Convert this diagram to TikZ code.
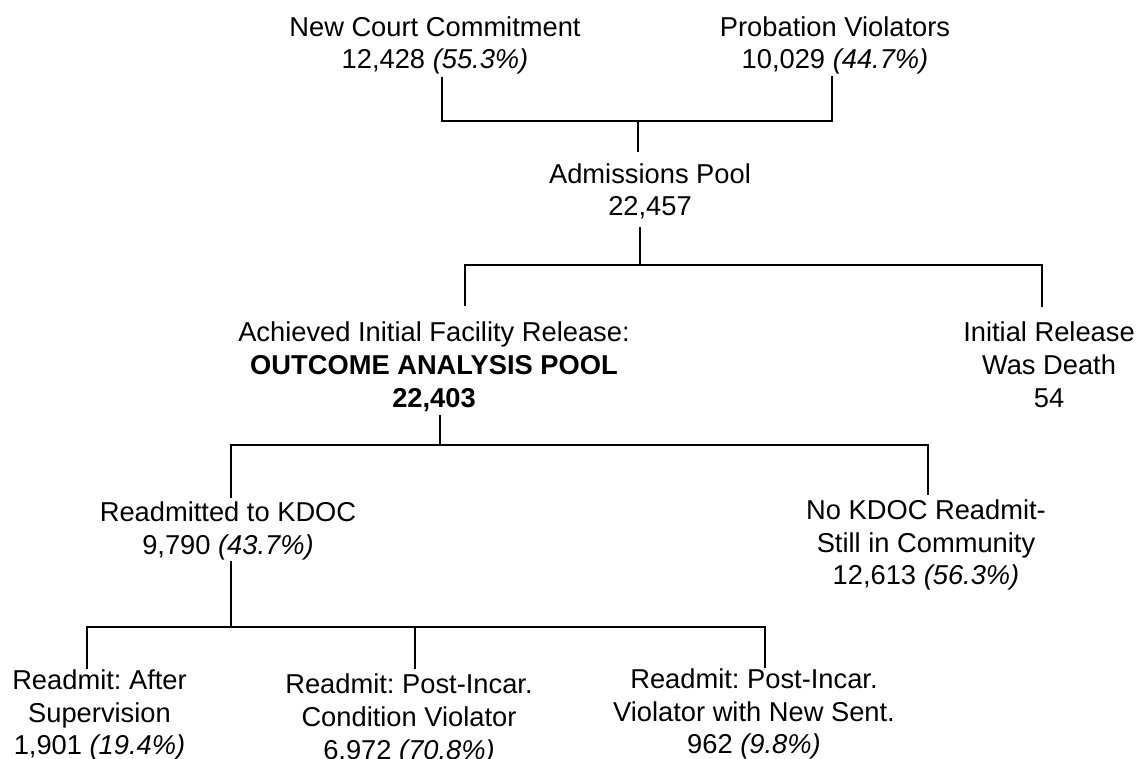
\documentclass[tikz,border=0pt]{standalone}
\usepackage{fontspec}
\setmainfont{Liberation Sans}
\newcommand\fstr{\rule{0pt}{11.375pt}}
\frenchspacing
\begin{document}
\begin{tikzpicture}[x=0.5pt,y=-0.5pt,
  lbl/.style={anchor=north,align=center,inner sep=0pt,font=\fontsize{13.65pt}{16.3pt}\selectfont\frenchspacing},
  wide/.style={font=\fontsize{13.65pt}{16.6pt}\selectfont\frenchspacing},
  conn/.style={draw=black,line width=0.65pt}]
\useasboundingbox (0,0) rectangle (1139,759);
% nodes
\node[lbl] (nc) at (435,13.25) {\fstr New Court Commitment\\12,428 \textit{(55.3\%)}};
\node[lbl] (pv) at (835,13.25) {\fstr Probation Violators\\10,029 \textit{(44.7\%)}};
\node[lbl] (ap) at (650,160.25) {\fstr Admissions Pool\\22,457};
\node[lbl,wide] (oa) at (434,318.25) {\fstr Achieved Initial Facility Release:\\\textbf{OUTCOME ANALYSIS POOL}\\\textbf{22,403}};
\node[lbl,wide] (de) at (1049,318.25) {\fstr Initial Release\\Was Death\\54};
\node[lbl,wide] (rk) at (228,498.25) {\fstr Readmitted to KDOC\\9,790 \textit{(43.7\%)}};
\node[lbl] (nk) at (926,496.25) {\fstr No KDOC Readmit-\\Still in Community\\12,613 \textit{(56.3\%)}};
\node[lbl] (as) at (99.5,666.25) {\fstr Readmit: After\\Supervision\\1,901 \textit{(19.4\%)}};
\node[lbl,wide] (cv) at (409,670.25) {\fstr Readmit: Post-Incar.\\Condition Violator\\6,972 \textit{(70.8\%)}};
\node[lbl] (vn) at (754,665.25) {\fstr Readmit: Post-Incar.\\Violator with New Sent.\\962 \textit{(9.8\%)}};
% connector points
\coordinate (ncB) at (442,77);
\coordinate (pvB) at (832,76);
\coordinate (j1) at (638,121);
\coordinate (apT) at (638,152);
\coordinate (apB) at (640,227);
\coordinate (j2) at (640,265);
\coordinate (oaT) at (465,306);
\coordinate (deT) at (1042,307);
\coordinate (oaB) at (440,415);
\coordinate (j3) at (440,445);
\coordinate (rkT) at (231,498);
\coordinate (nkT) at (928,495);
\coordinate (rkB) at (231,561);
\coordinate (j4) at (231,627);
\coordinate (asT) at (87,669);
\coordinate (cvT) at (415,669);
\coordinate (vnT) at (765,668);
% connectors
\draw[conn] (ncB) -- (ncB |- j1) -- (pvB |- j1) -- (pvB);
\draw[conn] (j1) -- (apT);
\draw[conn] (apB) -- (j2);
\draw[conn] (oaT) -- (oaT |- j2) -- (deT |- j2) -- (deT);
\draw[conn] (oaB) -- (j3);
\draw[conn] (rkT) -- (rkT |- j3) -- (nkT |- j3) -- (nkT);
\draw[conn] (rkB) -- (j4);
\draw[conn] (asT) -- (asT |- j4) -- (vnT |- j4) -- (vnT);
\draw[conn] (cvT) -- (cvT |- j4);
\end{tikzpicture}
\end{document}
